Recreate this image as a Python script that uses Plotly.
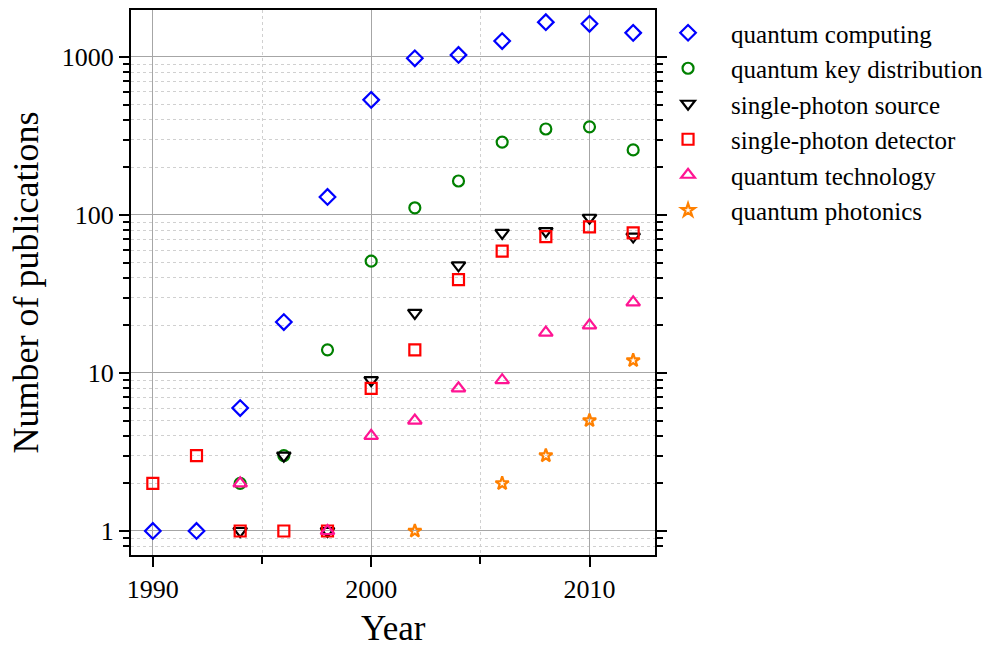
import plotly.graph_objects as go

years = [1990, 1992, 1994, 1996, 1998, 2000, 2002, 2004, 2006, 2008, 2010, 2012]

quantum_computing = [1, 1, 6, 21, 130, 535, 980, 1030, 1260, 1660, 1620, 1420]
qkd_years = [1994, 1996, 1998, 2000, 2002, 2004, 2006, 2008, 2010, 2012]
quantum_key_distribution = [2, 3, 14, 51, 111, 164, 289, 350, 361, 258]
sps_years = [1994, 1996, 1998, 2000, 2002, 2004, 2006, 2008, 2010, 2012]
single_photon_source = [1, 3, 1, 9, 24, 48, 77, 79, 96, 73]
spd_years = [1990, 1992, 1994, 1996, 1998, 2000, 2002, 2004, 2006, 2008, 2010, 2012]
single_photon_detector = [2, 3, 1, 1, 1, 8, 14, 39, 59, 73, 84, 77]
qt_years = [1994, 1998, 2000, 2002, 2004, 2006, 2008, 2010, 2012]
quantum_technology = [2, 1, 4, 5, 8, 9, 18, 20, 28]
qp_years = [2002, 2006, 2008, 2010, 2012]
quantum_photonics = [1, 2, 3, 5, 12]

y_tickvals = [1, 10, 100, 1000]
y_ticktext = ["1", "10", "100", "1000"]
x_tickvals = [1990, 2000, 2010]

# name, x, y, symbol, colour, marker size
series = [
    ("quantum computing", years, quantum_computing, "diamond-open", "#0000ff", 12),
    ("quantum key distribution", qkd_years, quantum_key_distribution, "circle-open", "#008000", 11),
    ("single-photon source", sps_years, single_photon_source, "triangle-down-open", "#000000", 12),
    ("single-photon detector", spd_years, single_photon_detector, "square-open", "#ff0000", 11),
    ("quantum technology", qt_years, quantum_technology, "triangle-up-open", "#ff1493", 12),
    ("quantum photonics", qp_years, quantum_photonics, "star-open", "#ff8000", 10),
]

fig = go.Figure()
for name, xs, ys, sym, col, sz in series:
    fig.add_trace(go.Scatter(
        x=xs, y=ys, mode="markers", name=name,
        marker=dict(symbol=sym, size=sz, color=col, line=dict(width=2.2, color=col)),
    ))

serif = "Liberation Serif"

fig.update_layout(
    width=1000, height=650,
    margin=dict(l=131, r=345, t=10, b=95),
    paper_bgcolor="white", plot_bgcolor="white",
    font=dict(family=serif, size=25, color="black"),
    showlegend=True,
    legend=dict(
        x=0.981, y=1.0, xanchor="left", yanchor="top",
        font=dict(family=serif, size=25, color="black"),
        tracegroupgap=0, itemwidth=76,
        bgcolor="rgba(0,0,0,0)",
    ),
    annotations=[dict(
        text="Year", xref="paper", yref="paper", x=0.5, y=0,
        xanchor="center", yanchor="bottom", yshift=-94, showarrow=False,
        borderpad=0, font=dict(family=serif, size=35, color="black"),
    )],
)

fig.update_xaxes(
    range=[1989, 2013],
    tickvals=x_tickvals,
    ticks="outside", ticklen=10, tickwidth=2, tickcolor="black",
    tickfont=dict(family=serif, size=26, color="black"),
    showline=True, linewidth=2, linecolor="black", mirror=True,
    showgrid=True, gridcolor="#a6a6a6", gridwidth=1,
    zeroline=False, automargin=False,
    minor=dict(
        tickvals=[1995, 2005], ticks="outside", ticklen=7, tickwidth=2,
        tickcolor="black", showgrid=True, gridcolor="#d0d0d0", griddash="3px,3px", gridwidth=1,
    ),
)

fig.update_yaxes(
    type="log",
    range=[-0.152, 3.297],
    tickvals=y_tickvals, ticktext=y_ticktext,
    ticks="outside", ticklen=10, tickwidth=2, tickcolor="black",
    tickfont=dict(family=serif, size=26, color="black"),
    showline=True, linewidth=2, linecolor="black", mirror="ticks",
    showgrid=True, gridcolor="#a6a6a6", gridwidth=1,
    zeroline=False, automargin=False,
    minor=dict(
        dtick="D1", ticks="outside", ticklen=6, tickwidth=2,
        tickcolor="black", showgrid=True, gridcolor="#d0d0d0", griddash="3px,3px", gridwidth=1,
    ),
    title=dict(text="Number of publications", font=dict(family=serif, size=36, color="black"), standoff=12),
)

fig.write_html("out.html")
